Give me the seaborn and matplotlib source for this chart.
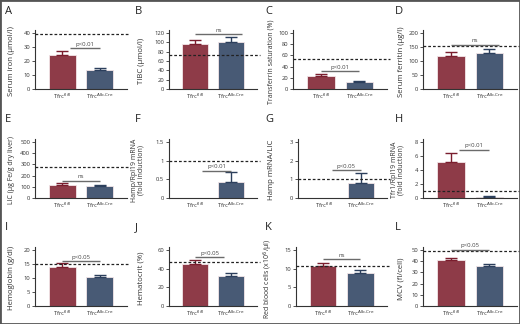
import matplotlib
matplotlib.use("Agg")
import matplotlib.pyplot as plt
import numpy as np
import pandas as pd
import seaborn as sns

groups = ["Tfrc$^{\\mathrm{fl/fl}}$", "Tfrc$^{\\mathrm{Alb\\text{-}Cre}}$"]
letters = ["A", "B", "C", "D", "E", "F", "G", "H", "I", "J", "K", "L"]
ylabels = [
    "Serum iron (µmol/l)",
    "TIBC (µmol/l)",
    "Transferrin saturation (%)",
    "Serum ferritin (µg/l)",
    "LIC (µg Fe/g dry liver)",
    "Hamp/Rpl19 mRNA\n(fold induction)",
    "Hamp mRNA/LIC",
    "Tfr1/Rpl19 mRNA\n(fold induction)",
    "Hemoglobin (g/dl)",
    "Hematocrit (%)",
    "Red blood cells (x10$^6$/µl)",
    "MCV (fl/cell)",
]
means_fl = [24, 97, 23, 117, 115, 0.0, 0.0, 5.1, 14.0, 45.0, 10.8, 41.0]
means_cre = [13.5, 100, 13, 128, 105, 0.42, 0.82, 0.12, 10.2, 32.5, 8.9, 36.0]
err_fl = [3, 7, 3, 13, 15, 0.0, 0.0, 1.3, 1.4, 4.5, 0.8, 2.0]
err_cre = [1.5, 10, 2, 13, 12, 0.28, 0.52, 0.1, 0.9, 2.5, 0.6, 1.0]
ref_lines = [39, 73, 54, 152, 275, 1.0, 1.0, 1.0, 15, 47, 10.8, 48.5]
sig_text = ["p<0.01", "ns", "p<0.01", "ns", "ns", "p<0.01", "p<0.05", "p<0.01",
            "p<0.05", "p<0.05", "ns", "p<0.05"]
sig_y = [29, 117, 32, 157, 155, 0.73, 1.48, 6.9, 16, 52, 12.5, 50]
sig_x0 = [0.2, 0.0, 0.0, 0.0, 0.0, 0.2, 0.2, 0.2, 0.0, 0.0, 0.0, 0.0]
sig_x1 = [1.0, 1.3, 1.0, 1.25, 1.0, 1.0, 1.0, 1.0, 1.0, 0.8, 1.0, 1.0]
yticks = [
    [0, 10, 20, 30, 40],
    [0, 20, 40, 60, 80, 100, 120],
    [0, 20, 40, 60, 80, 100],
    [0, 50, 100, 150, 200],
    [0, 100, 200, 300, 400, 500],
    [0, 0.5, 1, 1.5],
    [0, 1, 2, 3],
    [0, 2, 4, 6, 8],
    [0, 5, 10, 15, 20],
    [0, 20, 40, 60],
    [0, 5, 10, 15],
    [0, 10, 20, 30, 40, 50],
]
ytick_labels = [
    None, None, None, None, None, ["0", "0.5", "1", "1.5"], None, None, None, None, None, None,
]

bar_colors = ["#9c2d3f", "#40597d"]
err_colors = ["#7a1e2e", "#2c3f5c"]

sns.set_style("ticks")
plt.rcParams["font.family"] = ["Open Sans", "DejaVu Sans"]

W, H = 520, 324
fig = plt.figure(figsize=(W / 100, H / 100), dpi=100)
left_off = [35, 39, 33, 33, 35, 39, 38, 33, 35, 39, 36, 33]
bottoms = [89, 198, 306]
ax_h = 59

for i in range(12):
    r, c = divmod(i, 4)
    lpx = c * 130 + left_off[i]
    wpx = c * 130 + 127 - lpx
    ax = fig.add_axes([lpx / W, 1 - bottoms[r] / H, wpx / W, ax_h / H])

    df = pd.DataFrame({"group": groups, "value": [means_fl[i], means_cre[i]]})
    sns.barplot(data=df, x="group", y="value", hue="group", palette=bar_colors,
                width=0.72, edgecolor="#f3e6e8", linewidth=0.6, legend=False, ax=ax)
    for j, (m, e) in enumerate([(means_fl[i], err_fl[i]), (means_cre[i], err_cre[i])]):
        if e > 0:
            ax.errorbar(j, m, yerr=[[0], [e]], fmt="none", ecolor=err_colors[j],
                        elinewidth=1.0, capsize=4, capthick=1.0)

    top = yticks[i][-1]
    ax.set_ylim(0, top * 1.05)
    ax.set_xlim(-0.73, 1.72)
    ax.set_yticks(yticks[i])
    if ytick_labels[i] is not None:
        ax.set_yticklabels(ytick_labels[i])

    ax.axhline(ref_lines[i], xmin=0, xmax=1.035, color="#222222", lw=0.9,
               ls=(0, (2.2, 1.6)), clip_on=False, zorder=4)

    ax.plot([sig_x0[i], sig_x1[i]], [sig_y[i], sig_y[i]], color="#6b6b6b", lw=1.0,
            solid_capstyle="butt", zorder=5)
    ax.text((sig_x0[i] + sig_x1[i]) / 2, sig_y[i] + top * 0.025, sig_text[i],
            ha="center", va="bottom", fontsize=4.3, color="#444444")

    for s in ["top", "right"]:
        ax.spines[s].set_visible(False)
    for s in ["left", "bottom"]:
        ax.spines[s].set_color("#333333")
        ax.spines[s].set_linewidth(0.8)
    ax.tick_params(axis="both", labelsize=4.2, length=2, width=0.6, pad=1.5,
                   colors="#333333")
    ax.tick_params(axis="x", length=0, pad=2)
    ax.set_xlabel("")
    label_size = 5.0 if len(ylabels[i]) > 22 else 5.6
    ax.set_ylabel(ylabels[i], fontsize=label_size, color="#333333", linespacing=1.0)
    ax.yaxis.set_label_coords((15 - left_off[i]) / wpx, 0.47)

    fig.text((c * 130 + 5) / W, 1 - (r * 108 + 12) / H, letters[i], fontsize=8,
             ha="left", va="center", color="#222222")

fig.add_artist(plt.Rectangle((0, 0), 1, 1, transform=fig.transFigure, fill=False,
                             edgecolor="#555555", lw=2.0))

fig.savefig("out.png", dpi=100)
